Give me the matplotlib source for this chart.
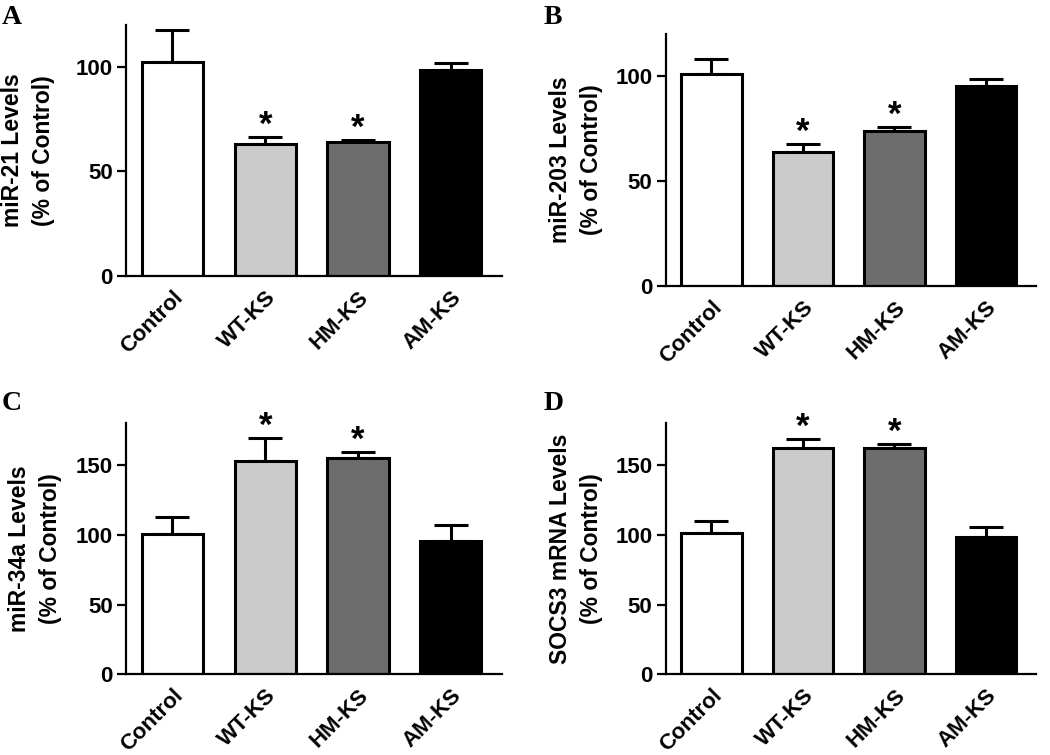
import numpy as np
import matplotlib
matplotlib.use('Agg')
import matplotlib.pyplot as plt
from matplotlib.transforms import ScaledTranslation

plt.rcParams['font.family'] = ['Liberation Sans', 'DejaVu Sans']
plt.rcParams['font.weight'] = 'bold'

groups = ['Control', 'WT-KS', 'HM-KS', 'AM-KS']
colors = ['#ffffff', '#cbcbcb', '#6d6d6d', '#000000']

# panel data: mean and upper error (SEM), % of control
mir21 = [102.5, 63.2, 64.0, 98.4]
mir21_err = [15.2, 3.4, 0.8, 3.3]
mir203 = [100.8, 63.8, 73.7, 95.0]
mir203_err = [7.1, 3.7, 2.1, 3.6]
mir34a = [100.9, 153.3, 155.4, 95.6]
mir34a_err = [11.6, 16.1, 3.9, 11.5]
socs3 = [101.2, 162.2, 162.2, 98.3]
socs3_err = [8.4, 6.8, 3.3, 7.2]

sig_a = [False, True, True, False]
sig_b = [False, True, True, False]
sig_c = [False, True, True, False]
sig_d = [False, True, True, False]

panels = [
    ('A', mir21, mir21_err, sig_a, 'miR-21 Levels\n(% of Control)', 120, [0, 50, 100],
     [0.120, 0.6344, 0.358, 0.3326], 15),
    ('B', mir203, mir203_err, sig_b, 'miR-203 Levels\n(% of Control)', 120, [0, 50, 100],
     [0.634, 0.6216, 0.353, 0.3334], 9),
    ('C', mir34a, mir34a_err, sig_c, 'miR-34a Levels\n(% of Control)', 180, [0, 50, 100, 150],
     [0.120, 0.1069, 0.358, 0.3324], 10),
    ('D', socs3, socs3_err, sig_d, 'SOCS3 mRNA Levels\n(% of Control)', 180, [0, 50, 100, 150],
     [0.634, 0.1069, 0.353, 0.3324], 9),
]

fig = plt.figure(figsize=(10.5, 7.55), dpi=100)
shift = ScaledTranslation(-5 / 100, 2 / 100, fig.dpi_scale_trans)

for letter, vals, errs, sig, ylab, ymax, yt, pos, lpad in panels:
    ax = fig.add_axes(pos)
    x = np.arange(len(groups))
    ax.errorbar(x, vals, yerr=[np.zeros(len(vals)), errs], fmt='none', ecolor='black',
                elinewidth=2.2, capsize=12, capthick=2.2, zorder=1)
    ax.bar(x, vals, width=0.66, color=colors, edgecolor='black', linewidth=2.2, zorder=2)
    for i in range(len(groups)):
        if sig[i]:
            ax.annotate('*', (x[i], vals[i] + errs[i]), xytext=(0, 1.5), textcoords='offset points',
                        ha='center', va='baseline', fontsize=25, fontweight='bold',
                        annotation_clip=False)
    ax.set_xlim(-0.5, 3.55)
    ax.set_ylim(0, ymax)
    ax.set_yticks(yt)
    ax.set_xticks(x)
    ax.set_xticklabels(groups, rotation=45, ha='right', va='top', rotation_mode='anchor',
                       fontsize=16, fontweight='bold')
    for t in ax.get_xticklabels():
        t.set_transform(t.get_transform() + shift)
    ax.tick_params(axis='x', length=0, pad=8)
    ax.tick_params(axis='y', length=6.5, width=1.6, labelsize=16, pad=3)
    for t in ax.get_yticklabels():
        t.set_fontweight('bold')
    ax.spines['top'].set_visible(False)
    ax.spines['right'].set_visible(False)
    ax.spines['left'].set_linewidth(1.6)
    ax.spines['bottom'].set_linewidth(1.6)
    ax.set_ylabel(ylab, fontsize=16.5, fontweight='bold', labelpad=lpad, linespacing=1.45)
    ax.patch.set_visible(False)

letter_pos = {'A': (0.002, 0.993), 'B': (0.518, 0.993), 'C': (0.002, 0.482), 'D': (0.518, 0.482)}
for k, (lx, ly) in letter_pos.items():
    fig.text(lx, ly, k, family=['Liberation Serif', 'DejaVu Serif'], fontsize=20,
             fontweight='bold', ha='left', va='top')

fig.savefig('out.png', dpi=100)
